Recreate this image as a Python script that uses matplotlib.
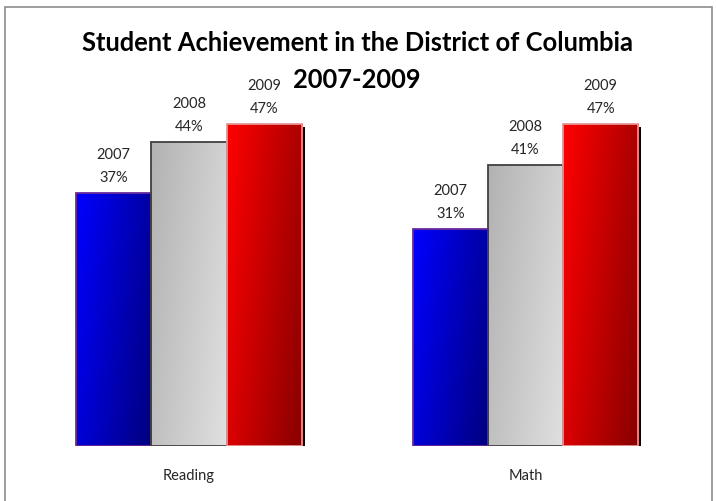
import matplotlib
matplotlib.use("Agg")
import matplotlib.pyplot as plt
import matplotlib.transforms as mtransforms
from matplotlib.patches import Rectangle
import numpy as np

plt.rcParams["font.family"] = ["Lato", "DejaVu Sans"]

title_lines = ["Student Achievement in the District of Columbia", "2007-2009"]
subjects = ["Reading", "Math"]
years = ["2007", "2008", "2009"]
reading = [36.9, 44.3, 47.0]
math = [31.6, 41.0, 47.0]
reading_labels = ["37%", "44%", "47%"]
math_labels = ["31%", "41%", "47%"]

# gradient colours per year: (top-left, bottom-right), and edge colour
grad = [((0, 0, 255), (0, 0, 125)),
        ((178, 178, 178), (224, 224, 224)),
        ((255, 0, 0), (135, 0, 0))]
edges = ["#6a2c9c", "#404040", "#e49494"]

W, H = 716, 502
fig = plt.figure(figsize=(W / 100, H / 100), dpi=100)

# outer border of the chart area
fig.patches.append(Rectangle((5 / W, -0.05), 707 / W, (H - 8) / H + 0.05,
                             transform=fig.transFigure, fill=False,
                             edgecolor="#8c8c8c", linewidth=1.2))

ax = fig.add_axes([20.75 / W, (H - 446.5) / H, 673 / W, 342 / H])
ax.set_xlim(-0.5, 1.5)
ax.set_ylim(0, 50)
ax.axis("off")

bar_w = 0.2235
shadow = mtransforms.offset_copy(ax.transData, fig=fig, x=3, y=-2.5, units="dots")

u, v = np.meshgrid(np.linspace(0, 1, 60), np.linspace(0, 1, 200))
t = 0.7 * u + 0.3 * v

for gi, (vals, labs) in enumerate([(reading, reading_labels), (math, math_labels)]):
    for bi, (val, lab) in enumerate(zip(vals, labs)):
        x0 = gi + (bi - 1.5) * bar_w
        # shadow
        ax.add_patch(Rectangle((x0, 0), bar_w, val, facecolor="black",
                               edgecolor="none", transform=shadow, zorder=1))
        c0 = np.array(grad[bi][0]) / 255
        c1 = np.array(grad[bi][1]) / 255
        img = c0[None, None, :] * (1 - t[..., None]) + c1[None, None, :] * t[..., None]
        ax.imshow(img, extent=[x0, x0 + bar_w, 0, val], origin="upper",
                  aspect="auto", interpolation="bilinear", zorder=2)
        ax.add_patch(Rectangle((x0, 0), bar_w, val, facecolor="none",
                               edgecolor=edges[bi], linewidth=1.3, zorder=3))
        ax.annotate(f"{years[bi]}\n{lab}", (x0 + bar_w / 2, val),
                    xytext=(0, 6.5), textcoords="offset points",
                    ha="center", va="bottom", fontsize=10.5, linespacing=1.85,
                    color="#262626")
    ax.text(gi, -3.3, subjects[gi], ha="center", va="top", fontsize=10.5,
            color="#262626", transform=ax.transData)

ax.set_xlim(-0.5, 1.5)
ax.set_ylim(0, 50)

for i, line in enumerate(title_lines):
    fig.text(357 / W, 1 - (43 + 37 * i) / H, line, ha="center", va="center",
             fontsize=18.4, fontweight="bold", color="black")

fig.savefig("out.png", dpi=100)
